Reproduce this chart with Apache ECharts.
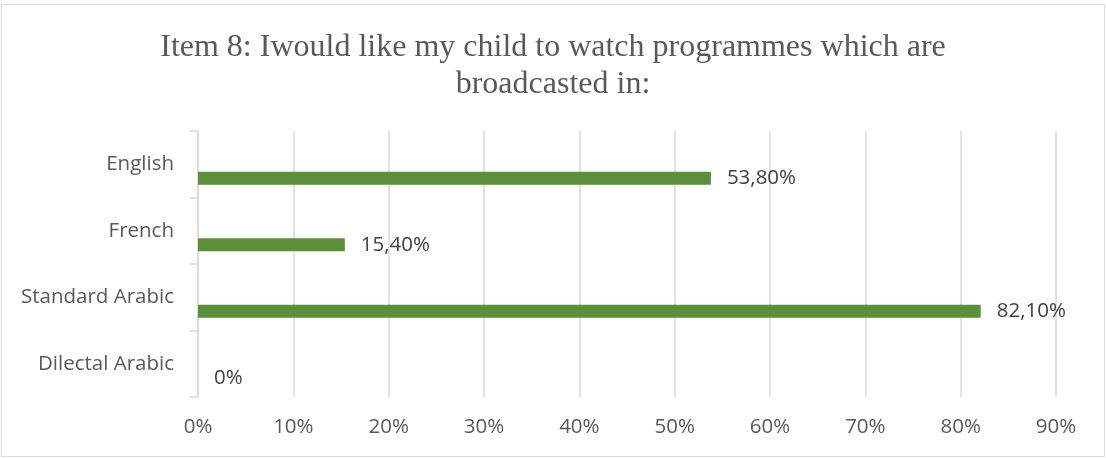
<!DOCTYPE html>
<html>
<head>
<meta charset="utf-8">
<script src="https://cdn.jsdelivr.net/npm/echarts@6/dist/echarts.min.js"></script>
<style>
html,body{margin:0;padding:0;background:#fff;}
#chart{width:1106px;height:458px;}
</style>
</head>
<body>
<div id="chart"></div>
<script>
const titleLines = ['Item 8: Iwould like my child to watch programmes which are', 'broadcasted in:'];
const categories = ['English', 'French', 'Standard Arabic', 'Dilectal Arabic'];
const values = [53.8, 15.4, 82.1, 0];
const emptyValues = ['-', '-', '-', '-'];
const xMin = 0, xMax = 90, xInterval = 10;

const chart = echarts.init(document.getElementById('chart'), null, {renderer: 'canvas'});
const fmt = v => v === 0 ? '0%' : v.toFixed(2).replace('.', ',') + '%';

chart.setOption({
  animation: false,
  backgroundColor: '#ffffff',
  title: {
    text: titleLines.join('\n'),
    left: 'center',
    top: 24,
    textStyle: {
      fontFamily: 'Liberation Serif',
      fontSize: 32,
      fontWeight: 'normal',
      color: '#595959',
      lineHeight: 37
    }
  },
  graphic: [{
    type: 'rect',
    shape: {x: 1.5, y: 4.5, width: 1103, height: 452},
    style: {fill: 'none', stroke: '#d9d9d9', lineWidth: 1},
    silent: true
  }],
  grid: {left: 198, right: 50, top: 131, bottom: 61},
  xAxis: {
    type: 'value',
    min: xMin, max: xMax, interval: xInterval,
    axisLine: {show: false},
    axisTick: {show: false},
    axisLabel: {
      formatter: '{value}%',
      fontFamily: 'Open Sans',
      fontSize: 20.5,
      color: '#595959',
      margin: 20
    },
    splitLine: {lineStyle: {color: '#d9d9d9', width: 1.5}}
  },
  yAxis: {
    type: 'category',
    inverse: true,
    data: categories,
    axisLine: {show: true, lineStyle: {color: '#d9d9d9', width: 1.5}},
    axisTick: {show: true, length: 8, lineStyle: {color: '#d9d9d9', width: 1.5}},
    axisLabel: {
      fontFamily: 'Open Sans',
      fontSize: 20.5,
      color: '#595959',
      margin: 24
    },
    splitLine: {show: false}
  },
  series: [
    {
      type: 'bar',
      data: emptyValues,
      barWidth: 13,
      barGap: '115%',
      itemStyle: {color: '#5b8f3b'}
    },
    {
      type: 'bar',
      data: values,
      barWidth: 13,
      barGap: '115%',
      itemStyle: {color: '#5b8f3b'},
      label: {
        show: true,
        position: 'right',
        distance: 16,
        formatter: p => fmt(p.value),
        fontFamily: 'Open Sans',
        fontSize: 20.5,
        color: '#404040'
      }
    }
  ]
});
</script>
</body>
</html>
